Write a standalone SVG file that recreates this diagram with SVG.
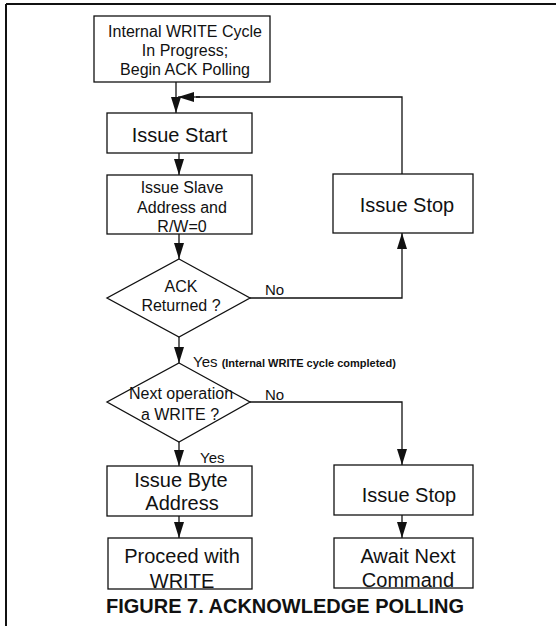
<svg xmlns="http://www.w3.org/2000/svg" width="556" height="626" viewBox="0 0 556 626">
  <defs>
    <marker id="arrow" markerUnits="userSpaceOnUse" markerWidth="16" markerHeight="10" refX="16" refY="5" orient="auto">
      <path d="M0,0 L16,5 L0,10 Z" fill="#111"/>
    </marker>
    <style>
      .box { fill: #fff; stroke: #111; stroke-width: 1.3; }
      .wire { fill: none; stroke: #111; stroke-width: 1.3; }
      .wire-arrow { fill: none; stroke: #111; stroke-width: 1.3; marker-end: url(#arrow); }
      text { font-family: "Liberation Sans", Arial, sans-serif; fill: #111; }
      .t16 { font-size: 16px; text-anchor: middle; }
      .t20 { font-size: 20px; text-anchor: middle; }
      .lbl { font-size: 15px; }
      .note { font-size: 11px; }
      .caption { font-size: 20px; font-weight: bold; text-anchor: middle; }
    </style>
  </defs>

  <rect width="556" height="626" fill="#fff"/>

  <!-- page frame (top and left rules) -->
  <path d="M6,4 H556 M6,4 V626" fill="none" stroke="#111" stroke-width="2"/>

  <!-- connectors -->
  <g id="connectors">
    <path class="wire-arrow" d="M176,82 V113"/>
    <path class="wire" d="M402,174 V97 H196"/>
    <path class="wire-arrow" d="M200,97 H178"/>
    <path class="wire-arrow" d="M179,153 V175"/>
    <path class="wire-arrow" d="M179,234 V259"/>
    <path class="wire-arrow" d="M179,337 V363"/>
    <path class="wire-arrow" d="M250,298 H402 V233"/>
    <path class="wire-arrow" d="M250,402 H402 V465"/>
    <path class="wire-arrow" d="M179,442 V466"/>
    <path class="wire-arrow" d="M179,516 V538"/>
    <path class="wire-arrow" d="M402,515 V538"/>
    <text class="lbl" x="265" y="295">No</text>
    <text class="lbl" x="193" y="367">Yes <tspan class="note" font-weight="600">(Internal WRITE cycle completed)</tspan></text>
    <text class="lbl" x="265" y="400">No</text>
    <text class="lbl" x="200" y="463">Yes</text>
  </g>

  <g id="begin-polling">
    <rect class="box" x="94" y="16" width="176" height="66"/>
    <text class="t16" x="185" y="37">Internal WRITE Cycle</text>
    <text class="t16" x="185" y="56">In Progress;</text>
    <text class="t16" x="185" y="75">Begin ACK Polling</text>
  </g>

  <g id="issue-start">
    <rect class="box" x="107" y="113" width="145" height="40"/>
    <text class="t20" x="179.5" y="142">Issue Start</text>
  </g>

  <g id="issue-slave-address">
    <rect class="box" x="107" y="175" width="145" height="59"/>
    <text class="t16" x="182" y="193">Issue Slave</text>
    <text class="t16" x="182" y="213">Address and</text>
    <text class="t16" x="182" y="232">R/W=0</text>
  </g>

  <g id="ack-returned">
    <polygon class="box" points="179,259 250,298 179,337 107,298"/>
    <text class="t16" x="181" y="292">ACK</text>
    <text class="t16" x="181" y="311">Returned ?</text>
  </g>

  <g id="issue-stop-retry">
    <rect class="box" x="333" y="174" width="140" height="59"/>
    <text class="t20" x="407" y="212">Issue Stop</text>
  </g>

  <g id="next-write">
    <polygon class="box" points="179,363 250,402 179,442 107,402"/>
    <text class="t16" x="181" y="399">Next operation</text>
    <text class="t16" x="180" y="420">a WRITE ?</text>
  </g>

  <g id="issue-byte-address">
    <rect class="box" x="107" y="466" width="145" height="50"/>
    <text class="t20" x="181" y="487">Issue Byte</text>
    <text class="t20" x="182" y="510">Address</text>
  </g>

  <g id="proceed-write">
    <rect class="box" x="108" y="538" width="144" height="51"/>
    <text class="t20" x="182" y="563">Proceed with</text>
    <text class="t20" x="182" y="588">WRITE</text>
  </g>

  <g id="issue-stop-done">
    <rect class="box" x="334" y="465" width="139" height="50"/>
    <text class="t20" x="409" y="502">Issue Stop</text>
  </g>

  <g id="await-command">
    <rect class="box" x="334" y="538" width="139" height="50"/>
    <text class="t20" x="408" y="563">Await Next</text>
    <text class="t20" x="408" y="587">Command</text>
  </g>

  <text class="caption" x="285" y="613">FIGURE 7. ACKNOWLEDGE POLLING</text>
</svg>
